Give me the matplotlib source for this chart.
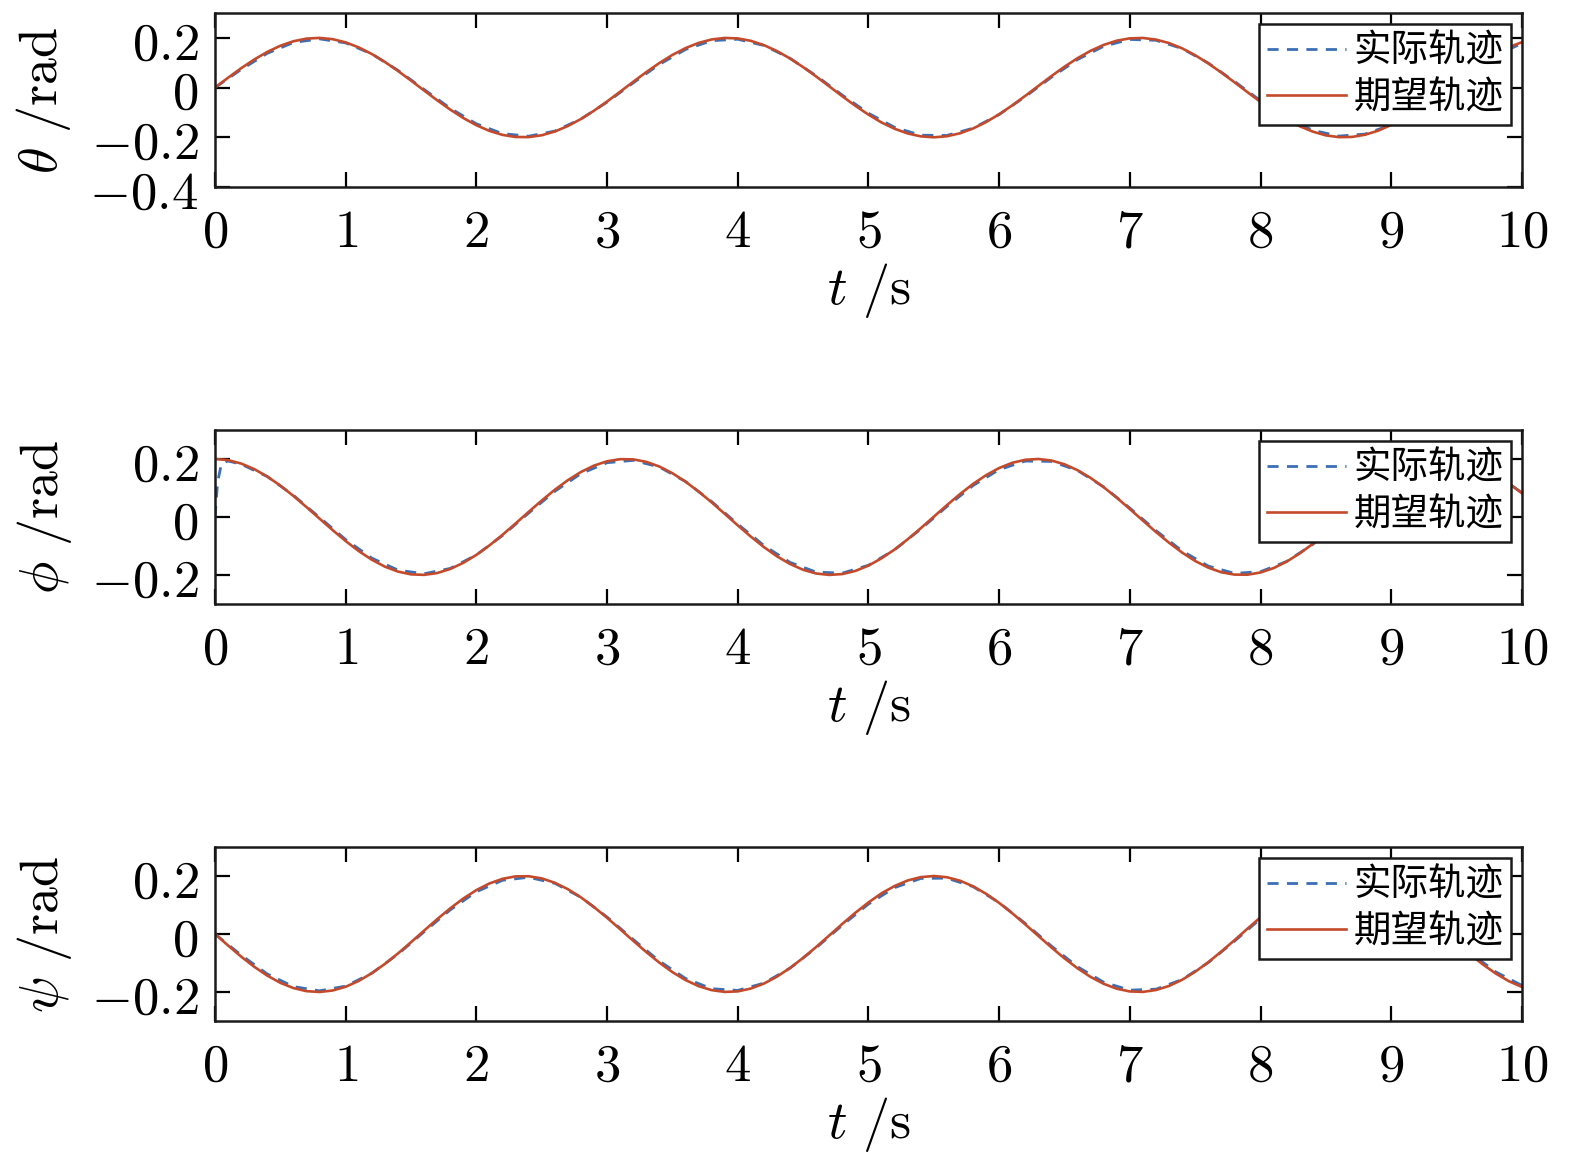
import numpy as np
import matplotlib
matplotlib.use('Agg')
import matplotlib.pyplot as plt

plt.rcParams['mathtext.fontset'] = 'cm'
plt.rcParams['font.family'] = ['Noto Sans CJK SC', 'DejaVu Sans']

# time grids
t_ref = np.linspace(0, 10, 101)
t_act = np.linspace(0, 10, 51)
t_phi_act = np.concatenate([[0, 0.02, 0.05, 0.1], t_act[1:]])

# desired trajectories (read at 0.1 s)
theta_ref = [0, .0397, .0779, .1129, .1435, .1683, .1864, .1971, .1999, .1948, .1819, .1617, .1351, .1031, .0670,
             .0282, -.0117, -.0511, -.0885, -.1224, -.1514, -.1743, -.1903, -.1987, -.1992, -.1918, -.1767, -.1546,
             -.1263, -.0929, -.0559, -.0166, .0233, .0623, .0988, .1314, .1587, .1797, .1936, .1997, .1979, .1881,
             .1709, .1469, .1170, .0824, .0446, .0050, -.0349, -.0733, -.1088, -.1403, -.1656, -.1846, -.1962, -.2000,
             -.1958, -.1839, -.1646, -.1387, -.1073, -.0716, -.0331, .0067, .0463, .0840, .1184, .1481, .1718, .1887,
             .1981, .1996, .1931, .1791, .1579, .1301, .0973, .0604, .0216, -.0184, -.0576, -.0945, -.1276, -.1556,
             -.1772, -.1923, -.1994, -.1985, -.1896, -.1734, -.1502, -.1210, -.0869, -.0494, -.0099, .0300, .0687,
             .1046, .1364, .1627, .1826]
phi_ref = [.2000, .1960, .1842, .1651, .1393, .1081, .0725, .0340, -.0058, -.0454, -.0832, -.1177, -.1475, -.1714,
           -.1884, -.1980, -.1997, -.1934, -.1794, -.1582, -.1307, -.0981, -.0615, -.0224, .0175, .0567, .0937, .1269,
           .1551, .1771, .1920, .1993, .1986, .1900, .1739, .1508, .1217, .0877, .0503, .0108, -.0291, -.0678, -.1039,
           -.1357, -.1622, -.1822, -.1950, -.1999, -.1969, -.1861, -.1678, -.1425, -.1122, -.0771, -.0389, .0009,
           .0406, .0787, .1137, .1441, .1688, .1867, .1972, .1999, .1946, .1815, .1612, .1345, .1024, .0662, .0273,
           -.0126, -.0520, -.0889, -.1228, -.1519, -.1748, -.1907, -.1988, -.1992, -.1915, -.1763, -.1540, -.1256,
           -.0927, -.0550, -.0158, .0241, .0633, .0997, .1321, .1592, .1801, .1938, .1998, .1977, .1878, .1705, .1463,
           .1163, .0816]
psi_ref = [0, -.0397, -.0779, -.1129, -.1435, -.1683, -.1864, -.1971, -.1999, -.1948, -.1819, -.1617, -.1351, -.1031,
           -.0670, -.0282, .0117, .0511, .0885, .1224, .1514, .1743, .1903, .1987, .1992, .1918, .1767, .1546, .1263,
           .0929, .0559, .0166, -.0233, -.0623, -.0988, -.1314, -.1587, -.1797, -.1936, -.1997, -.1979, -.1881, -.1709,
           -.1469, -.1170, -.0824, -.0446, -.0050, .0349, .0733, .1088, .1403, .1656, .1846, .1962, .2000, .1958,
           .1839, .1646, .1387, .1073, .0716, .0331, -.0067, -.0463, -.0840, -.1184, -.1481, -.1718, -.1887, -.1981,
           -.1996, -.1931, -.1791, -.1579, -.1301, -.0973, -.0604, -.0216, .0184, .0576, .0945, .1276, .1556, .1772,
           .1923, .1994, .1985, .1896, .1734, .1502, .1210, .0869, .0494, .0099, -.0300, -.0687, -.1046, -.1364,
           -.1627, -.1826]

# actual trajectories (read at 0.2 s)
theta_act = [0, .0727, .1379, .1813, .1960, .1798, .1353, .0694, -.0075, -.0832, -.1458, -.1853, -.1956, -.1750,
             -.1267, -.0585, .0189, .0934, .1532, .1887, .1945, .1695, .1178, .0475, -.0304, -.1033, -.1600, -.1915,
             -.1927, -.1635, -.1085, -.0363, .0416, .1130, .1664, .1937, .1903, .1571, .0987, .0250, -.0527, -.1221,
             -.1719, -.1951, -.1870, -.1498, -.0887, -.0136, .0636, .1308, .1773]
phi_act = [0, .12, .185, .193, .1820, .1394, .0746, -.0018, -.0781, -.1419, -.1834, -.1959, -.1775, -.1311, -.0639,
           .0133, .0884, .1495, .1871, .1952, .1723, .1223, .0531, -.0246, -.0985, -.1567, -.1902, -.1937, -.1666,
           -.1132, -.0419, .0360, .1082, .1633, .1927, .1916, .1603, .1037, .0307, -.0471, -.1172, -.1694, -.1945,
           -.1888, -.1534, -.0944, -.0194, .0583, .1265, .1748, .1956, .1854, .1461, .0836]
psi_act = [0, -.0727, -.1379, -.1813, -.1960, -.1798, -.1353, -.0694, .0075, .0832, .1458, .1853, .1956, .1750,
           .1267, .0585, -.0189, -.0934, -.1532, -.1887, -.1945, -.1695, -.1178, -.0475, .0304, .1033, .1600, .1915,
           .1927, .1635, .1085, .0363, -.0416, -.1130, -.1664, -.1937, -.1903, -.1571, -.0987, -.0250, .0527, .1221,
           .1719, .1951, .1870, .1498, .0887, .0136, -.0636, -.1308, -.1773]

x_ticks = list(range(11))
ylabels = [r'$\theta\ /\mathrm{rad}$', r'$\phi\ /\mathrm{rad}$', r'$\psi\ /\mathrm{rad}$']
yticks_list = [[-0.4, -0.2, 0, 0.2], [-0.2, 0, 0.2], [-0.2, 0, 0.2]]
ytick_text = {-0.4: r'$-0.4$', -0.2: r'$-0.2$', 0: r'$0$', 0.2: r'$0.2$'}
ylims = [(-0.4, 0.3), (-0.3, 0.3), (-0.3, 0.3)]
legend_names = ['实际轨迹', '期望轨迹']

c_act = '#3b6fb6'
c_ref = '#c44a2b'

fig = plt.figure(figsize=(15.75, 11.63), dpi=100)
positions = [[0.1365, 0.8392, 0.8298, 0.1496],
             [0.1365, 0.4807, 0.8298, 0.1496],
             [0.1365, 0.1221, 0.8298, 0.1496]]

series = [(t_act, theta_act, theta_ref), (t_phi_act, phi_act, phi_ref), (t_act, psi_act, psi_ref)]

for i, (ta, ya, yr) in enumerate(series):
    ax = fig.add_axes(positions[i])
    ax.plot(ta, ya, '--', color=c_act, lw=2.0, dashes=(4, 3), label=legend_names[0])
    ax.plot(t_ref, yr, '-', color=c_ref, lw=1.9, label=legend_names[1])
    ax.set_xlim(0, 10)
    ax.set_ylim(*ylims[i])
    ax.set_xticks(x_ticks, labels=[r'$%d$' % v for v in x_ticks])
    ax.set_yticks(yticks_list[i], labels=[ytick_text[v] for v in yticks_list[i]])
    ax.tick_params(direction='in', length=11, width=1.6, labelsize=38, top=True, right=True, pad=12)
    for sp in ax.spines.values():
        sp.set_linewidth(1.8)
        sp.set_color('#1a1a1a')
    ax.set_xlabel(r'$t\ /\mathrm{s}$', fontsize=39, labelpad=2)
    ax.set_ylabel(ylabels[i], fontsize=39, labelpad=12)
    leg = ax.legend(loc='upper right', fontsize=27, fancybox=False, framealpha=1,
                    edgecolor='#1a1a1a', handlelength=2.1, handletextpad=0.2,
                    borderaxespad=0.3, borderpad=0.2, labelspacing=0.2)
    leg.get_frame().set_linewidth(1.8)

fig.savefig('out.png', dpi=100)
